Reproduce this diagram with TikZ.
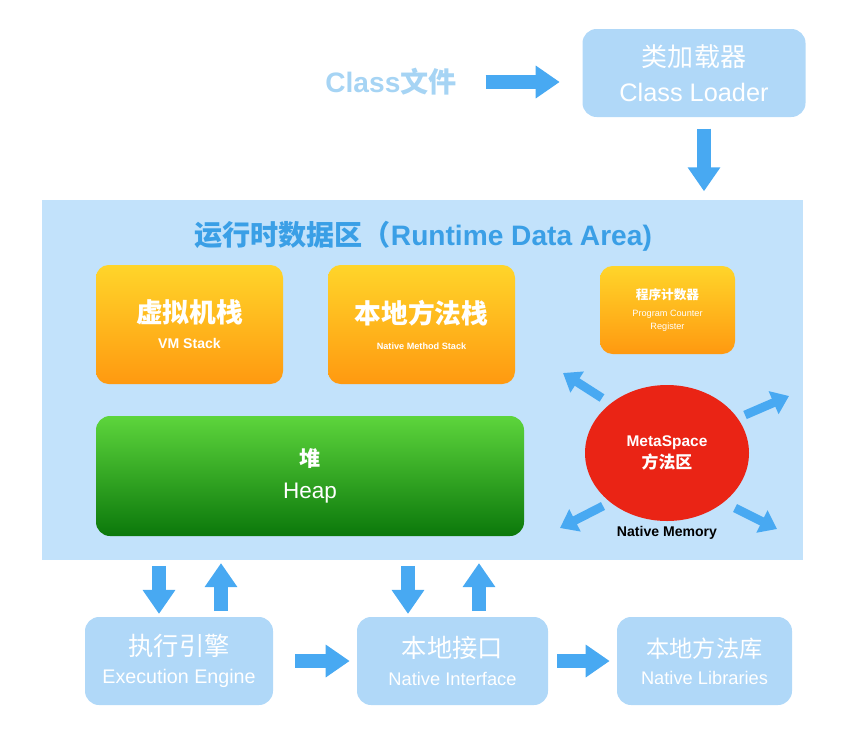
\documentclass[tikz,border=0pt]{standalone}
\usepackage{fontspec}
\setmainfont{Liberation Sans}
\newfontfamily\cjk{Noto Sans CJK SC}
\usetikzlibrary{arrows.meta,positioning,shapes.geometric}
\definecolor{lblue}{HTML}{B0D8F8}
\definecolor{areablue}{HTML}{C2E2FB}
\definecolor{arblue}{HTML}{48A9F2}
\definecolor{ttlblue}{HTML}{3A9FE6}
\definecolor{fileblue}{HTML}{A6D4F4}
\definecolor{otop}{HTML}{FFD52A}
\definecolor{obot}{HTML}{FF9910}
\definecolor{gtop}{HTML}{5DD53C}
\definecolor{gbot}{HTML}{0B780B}
\definecolor{mred}{HTML}{EA2415}

\begin{document}
\begin{tikzpicture}[
  x=0.025cm, y=-0.025cm,
  lbox/.style={fill=lblue, rounded corners=10pt, text=white, align=center,
               minimum width=#1, minimum height=88*0.025cm, inner sep=0pt},
  obox/.style={top color=otop, bottom color=obot, rounded corners=9pt, text=white,
               align=center, inner sep=0pt},
  arr/.style={-{Triangle[length=0.6cm, width=0.78cm]}, arblue, line width=0.33cm},
  sarr/.style={-{Triangle[length=0.42cm, width=0.6cm]}, arblue, line width=0.22cm},
]
\useasboundingbox (0,0) rectangle (853,737);

% Eingang: Class-Datei und Klassenlader
\node[font=\bfseries\fontsize{20}{24}\selectfont, text=fileblue] (file) at (391,82)
  {Class{\cjk 文件}};
\node[lbox=223*0.025cm, font=\fontsize{10}{25}\selectfont] (loader) at (694,73)
  {{\cjk\fontsize{18.5}{22}\selectfont 类加载器}\\{\fontsize{18}{22}\selectfont Class Loader}};
\draw[arr, shorten <=17pt, shorten >=16pt] (file.east) -- (file.east -| loader.west);

% Laufzeitdatenbereich
\node[fill=areablue, minimum width=761*0.025cm, minimum height=360*0.025cm,
      inner sep=0pt] (area) at (422.5,380) {};
\draw[arr, shorten <=8pt, shorten >=6pt] (loader.south -| 704,0) -- (area.north -| 704,0);
\node[font=\bfseries\fontsize{20}{24}\selectfont, text=ttlblue] (title) at (423,236)
  {{\cjk 运行时数据区（}Runtime Data Area)};

\node[obox, minimum width=187*0.025cm, minimum height=119*0.025cm,
      font=\bfseries\fontsize{10}{18.5}\selectfont] (vms) at (189.5,324.5)
  {{\cjk\fontsize{19}{22}\selectfont 虚拟机栈}\\{\fontsize{10}{12}\selectfont VM Stack}};
\node[obox, minimum width=187*0.025cm, minimum height=119*0.025cm,
      font=\bfseries\fontsize{10}{18.5}\selectfont] (nms) at (421.5,324.5)
  {{\cjk\fontsize{19}{22}\selectfont 本地方法栈}\\{\fontsize{6.5}{8}\selectfont Native Method Stack}};
\node[obox, minimum width=135*0.025cm, minimum height=88*0.025cm,
      font=\fontsize{6.5}{9.5}\selectfont] (pc) at (667.5,310)
  {{\cjk\bfseries\fontsize{9}{11}\selectfont 程序计数器}\\[2.5pt]Program Counter\\Register};
\node[top color=gtop, bottom color=gbot, rounded corners=10pt, text=white, align=center,
      minimum width=428*0.025cm, minimum height=120*0.025cm, inner sep=0pt,
      font=\fontsize{10}{23}\selectfont] (heap) at (310,476)
  {{\cjk\bfseries\fontsize{15}{18}\selectfont 堆}\\{\fontsize{16}{19}\selectfont Heap}};

% Metaspace im nativen Speicher
\node[ellipse, fill=mred, minimum width=164*0.025cm, minimum height=136*0.025cm,
      text=white, align=center, inner sep=0pt, font=\fontsize{10}{15.6}\selectfont] (meta) at (667,453)
  {{\bfseries\fontsize{11}{13}\selectfont MetaSpace}\\{\cjk\bfseries\fontsize{12}{14}\selectfont 方法区}};
\node[font=\bfseries\fontsize{10}{12}\selectfont] (natmem) at (667,533) {Native Memory};
\coordinate (ul) at (563,373);
\coordinate (ur) at (789,396);
\coordinate (dl) at (560,528);
\coordinate (dr) at (777,529);
\draw[sarr] (602,398) -- (ul);
\draw[sarr] (745,415) -- (ur);
\draw[sarr] (603,506) -- (dl);
\draw[sarr] (735,508) -- (dr);

% Ausfuehrung und native Schnittstelle
\node[lbox=188*0.025cm, font=\fontsize{10}{20}\selectfont] (exec) at (179,661)
  {{\cjk\fontsize{18}{21}\selectfont 执行引擎}\\{\fontsize{14}{16}\selectfont Execution Engine}};
\node[lbox=191*0.025cm, font=\fontsize{10}{20.5}\selectfont] (nif) at (452.5,661)
  {{\cjk\fontsize{18}{21}\selectfont 本地接口}\\{\fontsize{13}{15}\selectfont Native Interface}};
\node[lbox=175*0.025cm, font=\fontsize{10}{19}\selectfont] (nlib) at (704.5,661)
  {{\cjk\fontsize{16.5}{20}\selectfont 本地方法库}\\{\fontsize{13}{15}\selectfont Native Libraries}};

\draw[arr, shorten <=4pt, shorten >=2pt] (area.south -| 159,0) -- (exec.north -| 159,0);
\draw[arr, shorten <=4pt, shorten >=2pt] (exec.north -| 221,0) -- (area.south -| 221,0);
\draw[arr, shorten <=4pt, shorten >=2pt] (area.south -| 408,0) -- (nif.north -| 408,0);
\draw[arr, shorten <=4pt, shorten >=2pt] (nif.north -| 479,0) -- (area.south -| 479,0);
\draw[arr, shorten <=15.6pt, shorten >=5pt] (exec) -- (nif);
\draw[arr, shorten <=6.4pt, shorten >=5pt] (nif) -- (nlib);
\end{tikzpicture}
\end{document}
